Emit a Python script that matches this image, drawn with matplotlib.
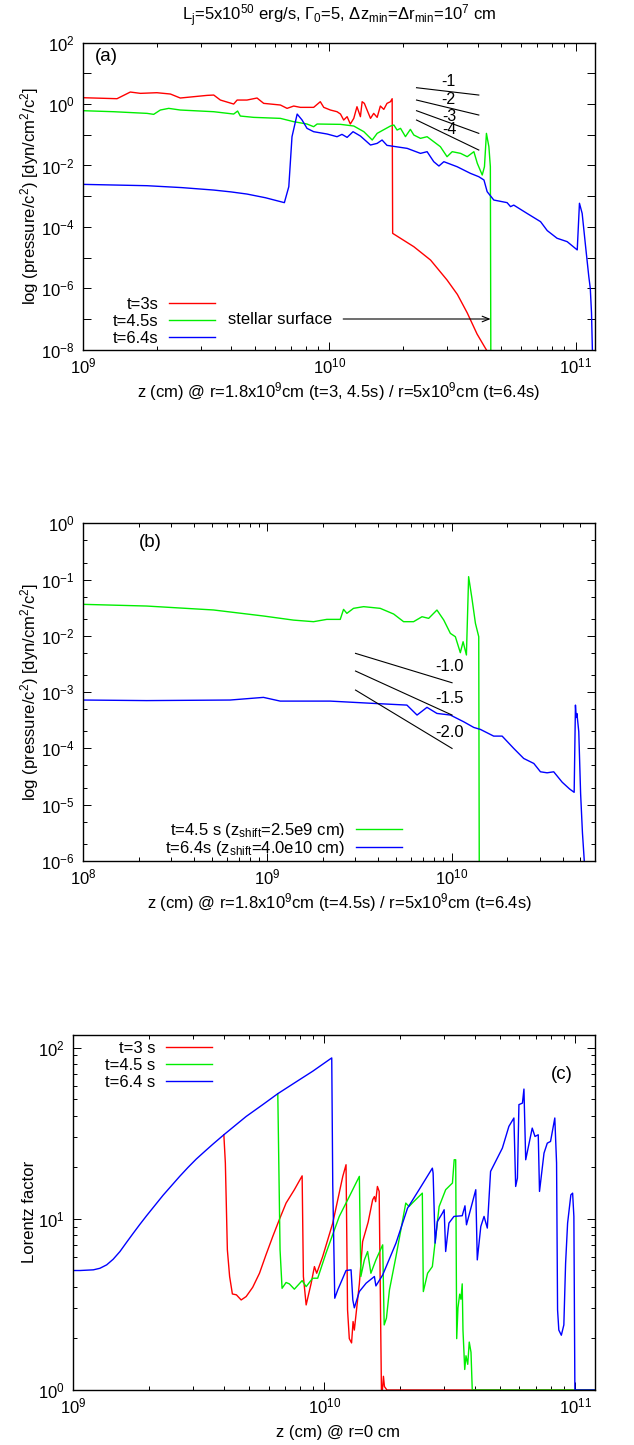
import numpy as np
import matplotlib
matplotlib.use('Agg')
import matplotlib.pyplot as plt
from matplotlib.ticker import FixedLocator, FuncFormatter, NullFormatter

plt.rcParams['font.family'] = ['Liberation Sans', 'DejaVu Sans']
plt.rcParams['mathtext.fontset'] = 'custom'
plt.rcParams['mathtext.rm'] = 'Liberation Sans'
plt.rcParams['mathtext.it'] = 'Liberation Sans:italic'
plt.rcParams['mathtext.bf'] = 'Liberation Sans:bold'
FS = 12

# ---------------- data (log10 values) ----------------
# Panel (a): (log10 z [cm], log10 pressure/c^2)
a_t3 = [(9.000, 0.208), (9.137, 0.176), (9.191, 0.393), (9.232, 0.350), (9.299, 0.371),
        (9.354, 0.328), (9.394, 0.198), (9.503, 0.284), (9.530, 0.295), (9.557, 0.132),
        (9.611, 0.002), (9.625, 0.132), (9.665, 0.132), (9.706, 0.198), (9.733, 0.024),
        (9.801, -0.030), (9.828, -0.139), (9.855, -0.063), (9.882, -0.106), (9.936, -0.106),
        (9.963, 0.078), (9.977, -0.106), (10.004, -0.193), (10.031, -0.248), (10.045, -0.324),
        (10.058, -0.519), (10.072, -0.410), (10.085, -0.649), (10.099, -0.465), (10.112, -0.085),
        (10.126, -0.410), (10.133, 0.078), (10.142, 0.024), (10.153, -0.193), (10.167, -0.465),
        (10.180, -0.302), (10.194, -0.432), (10.207, -0.063), (10.221, -0.172), (10.234, 0.024),
        (10.248, 0.078), (10.255, 0.176), (10.257, -4.210), (10.343, -4.645), (10.411, -5.080),
        (10.478, -5.730), (10.520, -6.200), (10.560, -6.800), (10.600, -7.490), (10.630, -7.900),
        (10.645, -8.100)]
a_t45 = [(9.000, -0.215), (9.123, -0.248), (9.259, -0.302), (9.286, -0.334), (9.313, -0.193),
         (9.347, -0.139), (9.394, -0.193), (9.530, -0.248), (9.611, -0.324), (9.627, -0.226),
         (9.638, -0.389), (9.665, -0.410), (9.692, -0.432), (9.801, -0.465), (9.855, -0.573),
         (9.909, -0.649), (9.936, -0.736), (9.950, -0.649), (10.045, -0.660), (10.099, -0.714),
         (10.140, -0.899), (10.174, -1.170), (10.194, -0.953), (10.248, -0.714), (10.262, -0.682),
         (10.275, -0.845), (10.289, -0.790), (10.309, -1.060), (10.329, -0.823), (10.343, -1.007),
         (10.370, -1.116), (10.397, -1.062), (10.424, -1.225), (10.451, -1.388), (10.478, -1.713),
         (10.499, -1.550), (10.533, -1.605), (10.560, -1.713), (10.587, -1.550), (10.601, -1.930),
         (10.621, -2.310), (10.630, -2.040), (10.638, -0.953), (10.648, -1.388), (10.654, -2.040),
         (10.656, -8.500)]
a_t64 = [(9.000, -2.615), (9.259, -2.658), (9.400, -2.720), (9.530, -2.800), (9.600, -2.860),
         (9.665, -2.930), (9.740, -3.050), (9.817, -3.210),
         (9.835, -2.690), (9.848, -1.062), (9.869, -0.324), (9.889, -0.519), (9.909, -0.790),
         (9.936, -0.899), (9.991, -0.975), (10.031, -1.062), (10.051, -0.986), (10.072, -1.084),
         (10.096, -0.899), (10.126, -1.040), (10.167, -1.333), (10.194, -1.279), (10.214, -1.170),
         (10.234, -1.344), (10.316, -1.442), (10.370, -1.605), (10.397, -1.550), (10.424, -1.876),
         (10.445, -2.017), (10.465, -1.876), (10.519, -2.040), (10.573, -2.256), (10.607, -2.365),
         (10.628, -2.473), (10.641, -2.853), (10.668, -3.125), (10.722, -3.210), (10.736, -3.340),
         (10.749, -3.290), (10.803, -3.560), (10.858, -3.830), (10.885, -4.120), (10.925, -4.370),
         (10.966, -4.480), (11.007, -4.750), (11.016, -3.230), (11.027, -3.560), (11.041, -4.640),
         (11.054, -5.620), (11.060, -6.000), (11.065, -6.800), (11.070, -8.500)]
a_labels = ['t=3s', 't=4.5s', 't=6.4s']
# slope guides (a): log z ends, log p ends for each slope
a_guide_logz = [10.354, 10.607]
a_guide_logp = [(0.534, 0.295), (0.132, -0.356), (-0.215, -0.953), (-0.519, -1.496)]
a_guide_text = ['-1', '-2', '-3', '-4']
a_guide_text_pos = [(10.485, 0.751), (10.485, 0.165), (10.489, -0.410), (10.489, -0.823)]
surface_logz = 10.655
surface_logp = -7.0

# Panel (b)
b_t45 = [(8.000, -1.440), (8.344, -1.470), (8.707, -1.540), (8.978, -1.647), (9.141, -1.720),
         (9.250, -1.748), (9.322, -1.707), (9.395, -1.707), (9.413, -1.529), (9.431, -1.600),
         (9.467, -1.511), (9.522, -1.481), (9.612, -1.511), (9.685, -1.612), (9.739, -1.748),
         (9.793, -1.748), (9.839, -1.660), (9.875, -1.689), (9.920, -1.541), (9.957, -1.719),
         (9.993, -1.956), (10.020, -2.015), (10.047, -2.299), (10.062, -2.104), (10.080, -2.340),
         (10.092, -0.948), (10.110, -1.333), (10.129, -1.778), (10.147, -2.015), (10.150, -6.500)]
b_t64 = [(8.000, -3.140), (8.344, -3.150), (8.797, -3.140), (8.978, -3.093), (9.069, -3.159),
         (9.340, -3.159), (9.576, -3.200), (9.757, -3.230), (9.812, -3.407), (9.866, -3.270),
         (9.920, -3.378), (9.993, -3.407), (10.065, -3.526), (10.120, -3.627), (10.156, -3.662),
         (10.228, -3.781), (10.274, -3.781), (10.337, -4.000), (10.391, -4.178), (10.446, -4.267),
         (10.482, -4.415), (10.518, -4.433), (10.554, -4.415), (10.600, -4.600), (10.640, -4.720),
         (10.665, -4.780), (10.672, -3.230), (10.676, -3.450), (10.680, -3.380), (10.690, -3.700),
         (10.700, -4.800), (10.710, -5.500), (10.730, -6.500)]
b_labels = [r't=4.5 s (z$_\mathrm{shift}$=2.5e9 cm)', r't=6.4s (z$_\mathrm{shift}$=4.0e10 cm)']
b_guide_logz = [9.478, 10.002]
b_guide_logp = [(-2.311, -2.833), (-2.625, -3.407), (-2.963, -4.000)]
b_guide_text = ['-1.0', '-1.5', '-2.0']
b_guide_text_pos = [(9.986, -2.536), (9.986, -3.111), (9.986, -3.720)]

# Panel (c): (log10 z, log10 Lorentz factor)
c_t3 = [(9.600, 1.491), (9.606, 1.326), (9.614, 0.819), (9.623, 0.663), (9.634, 0.561),
        (9.650, 0.556), (9.669, 0.526), (9.689, 0.546), (9.715, 0.600), (9.742, 0.682),
        (9.768, 0.790), (9.795, 0.897), (9.821, 0.995),
        (9.848, 1.092), (9.881, 1.170), (9.912, 1.251), (9.917, 0.663), (9.928, 0.497), (9.948, 0.624),
        (9.961, 0.721), (9.970, 0.682), (9.994, 0.780), (10.034, 0.975), (10.074, 1.248),
        (10.087, 1.316), (10.093, 0.468), (10.100, 0.300), (10.109, 0.275), (10.115, 0.400),
        (10.120, 0.350), (10.140, 0.620), (10.153, 0.867), (10.175, 0.980), (10.193, 1.111),
        (10.200, 1.130), (10.205, 1.100), (10.212, 1.189), (10.219, 1.160), (10.228, 0.000),
        (10.232, 0.000), (10.236, 0.080), (10.240, 0.020), (10.250, 0.000), (11.080, 0.000)]
c_t45 = [(9.815, 1.731), (9.819, 1.326), (9.824, 0.819), (9.832, 0.594), (9.848, 0.628),
         (9.861, 0.620), (9.881, 0.589), (9.912, 0.639), (9.928, 0.604), (9.954, 0.653),
         (9.974, 0.653), (10.007, 0.799), (10.060, 1.014), (10.100, 1.130), (10.140, 1.248),
         (10.146, 0.663),
         (10.160, 0.760), (10.173, 0.809), (10.186, 0.682), (10.206, 0.760), (10.233, 0.848),
         (10.239, 0.380), (10.248, 0.420), (10.260, 0.585), (10.286, 0.780), (10.325, 1.092),
         (10.338, 1.072), (10.351, 1.092), (10.391, 1.150), (10.395, 0.575), (10.412, 0.682),
         (10.431, 0.721), (10.458, 1.072), (10.484, 1.170), (10.504, 1.199), (10.511, 1.209),
         (10.518, 1.345), (10.524, 1.345), (10.528, 0.300), (10.533, 0.480), (10.540, 0.560),
         (10.545, 0.530), (10.550, 0.620), (10.553, 0.350), (10.560, 0.120), (10.565, 0.200),
         (10.572, 0.150), (10.578, 0.280), (10.585, 0.220), (10.590, 0.000), (11.080, 0.000)]
c_t64 = [(9.000, 0.698), (9.027, 0.698), (9.080, 0.702), (9.106, 0.711), (9.133, 0.731),
         (9.159, 0.764), (9.186, 0.809), (9.212, 0.862), (9.239, 0.916), (9.265, 0.967),
         (9.292, 1.018), (9.325, 1.078), (9.358, 1.138), (9.391, 1.193), (9.424, 1.248),
         (9.457, 1.300), (9.490, 1.349), (9.524, 1.394), (9.557, 1.437), (9.600, 1.491),
         (9.649, 1.550), (9.689, 1.598), (9.755, 1.667), (9.815, 1.731), (9.888, 1.800),
         (9.954, 1.862), (10.030, 1.940),
         (10.034, 1.200), (10.040, 0.700), (10.042, 0.536), (10.054, 0.585), (10.087, 0.698),
         (10.107, 0.702), (10.114, 0.526), (10.120, 0.480), (10.140, 0.575), (10.167, 0.624),
         (10.200, 0.663), (10.206, 0.608), (10.233, 0.672), (10.286, 0.858), (10.332, 1.062),
         (10.378, 1.170), (10.431, 1.296), (10.434, 1.267), (10.442, 0.858), (10.451, 0.984),
         (10.471, 1.033), (10.478, 1.053), (10.484, 0.809), (10.497, 0.975), (10.517, 1.014),
         (10.550, 1.018), (10.561, 1.076), (10.567, 0.965), (10.604, 1.170), (10.610, 0.760),
         (10.624, 0.955), (10.637, 1.014), (10.650, 0.946), (10.663, 1.277), (10.710, 1.413),
         (10.736, 1.540), (10.756, 1.589), (10.763, 1.189), (10.770, 1.238), (10.776, 1.667),
         (10.790, 1.676), (10.796, 1.758), (10.803, 1.345), (10.829, 1.530), (10.840, 1.481),
         (10.853, 1.491), (10.858, 1.160), (10.876, 1.384), (10.889, 1.442), (10.902, 1.452),
         (10.919, 1.589), (10.926, 1.326), (10.930, 0.468), (10.935, 0.350), (10.945, 0.320),
         (10.955, 0.380), (10.962, 0.740), (10.970, 0.975), (10.983, 1.140), (10.990, 1.150),
         (10.995, 1.014), (10.999, 0.000), (11.080, 0.000)]
c_labels = ['t=3 s', 't=4.5 s', 't=6.4 s']

COLORS = ['#ff0000', '#00ee00', '#0000ff']
LW = 1.0

W, H = 634, 1445
fig = plt.figure(figsize=(W / 100, H / 100), dpi=100)


def ax_px(left, top, right, bottom):
    return fig.add_axes([left / W, 1 - bottom / H, (right - left) / W, (bottom - top) / H])


def pw(pairs):
    arr = np.array(pairs)
    return 10 ** arr[:, 0], 10 ** arr[:, 1]


def sci(v, pos):
    return r'10$^{%d}$' % int(round(np.log10(v)))


def style(ax):
    ax.tick_params(which='both', direction='in', top=True, right=True, labelsize=FS, width=0.7)
    ax.tick_params(which='major', length=6)
    ax.tick_params(which='minor', length=3)
    ax.tick_params(axis='y', which='both', pad=6.5)
    ax.tick_params(axis='x', which='both', pad=5)
    for s in ax.spines.values():
        s.set_linewidth(1.0)


def fx(px):
    return px / W


def fy(py):
    return 1 - py / H


LEG = dict(bbox_transform=fig.transFigure, markerfirst=False, frameon=False,
           handlelength=2.75, handletextpad=0.65, borderpad=0,
           borderaxespad=0, fontsize=FS, loc='upper right')

# ---------------- panel (a) ----------------
axa = ax_px(83.3, 42.7, 595, 349.7)
axa.set_xscale('log'); axa.set_yscale('log')
lines_a = []
for d, c, lab in zip([a_t3, a_t45, a_t64], COLORS, a_labels):
    x, y = pw(d)
    ln, = axa.plot(x, y, color=c, lw=LW, label=lab)
    lines_a.append(ln)
axa.set_xlim(1e9, 1.2e11)
axa.set_ylim(1e-8, 1e2)
for (p0, p1) in a_guide_logp:
    axa.plot(10 ** np.array(a_guide_logz), 10 ** np.array([p0, p1]), color='black', lw=0.8)
for t, (lx, ly) in zip(a_guide_text, a_guide_text_pos):
    axa.text(10 ** lx, 10 ** ly, t, ha='center', va='center', fontsize=FS - 0.5)
axa.text(10 ** 9.588, 10 ** surface_logp, 'stellar surface', ha='left', va='center', fontsize=FS)
axa.annotate('', xy=(10 ** surface_logz, 10 ** surface_logp), xytext=(10 ** 10.056, 10 ** surface_logp),
             arrowprops=dict(arrowstyle='->,head_length=0.5,head_width=0.2', color='black', lw=0.8,
                             shrinkA=0, shrinkB=0))
axa.text(0.045, 0.955, '(a)', transform=axa.transAxes, ha='center', va='center', fontsize=FS + 1.5)
axa.xaxis.set_major_locator(FixedLocator([1e9, 1e10, 1e11]))
axa.xaxis.set_minor_locator(FixedLocator([m * 10 ** e for e in (9, 10) for m in range(2, 10)]))
axa.xaxis.set_major_formatter(FuncFormatter(sci))
axa.xaxis.set_minor_formatter(NullFormatter())
axa.yaxis.set_major_locator(FixedLocator([10.0 ** e for e in range(-8, 3, 2)]))
axa.yaxis.set_minor_locator(FixedLocator([10.0 ** e for e in range(-7, 2, 2)]))
axa.yaxis.set_major_formatter(FuncFormatter(sci))
axa.yaxis.set_minor_formatter(NullFormatter())
style(axa)
axa.tick_params(axis='y', which='minor', length=6)
axa.legend(handles=lines_a, bbox_to_anchor=(fx(215), fy(297)), labelspacing=0.12, **LEG)

fig.text(fx(339), fy(21), r'L$_\mathrm{j}$=5x10$^{50}$ erg/s, Γ$_\mathrm{0}$=5, Δz$_\mathrm{min}$=Δr$_\mathrm{min}$=10$^{7}$ cm',
         ha='center', va='baseline', fontsize=FS)
fig.text(fx(339), fy(397), r'z (cm) @ r=1.8x10$^{9}$cm (t=3, 4.5s) / r=5x10$^{9}$cm (t=6.4s)',
         ha='center', va='baseline', fontsize=FS)
fig.text(fx(30), fy(196), r'log (pressure/c$^{2}$) [dyn/cm$^{2}$/c$^{2}$]', rotation=90,
         ha='center', va='center', fontsize=FS)

# ---------------- panel (b) ----------------
axb = ax_px(83.3, 523.3, 595, 861)
axb.set_xscale('log'); axb.set_yscale('log')
lines_b = []
for d, c, lab in zip([b_t45, b_t64], COLORS[1:], b_labels):
    x, y = pw(d)
    ln, = axb.plot(x, y, color=c, lw=LW, label=lab)
    lines_b.append(ln)
axb.set_xlim(1e8, 6e10)
axb.set_ylim(1e-6, 1e0)
for (p0, p1) in b_guide_logp:
    axb.plot(10 ** np.array(b_guide_logz), 10 ** np.array([p0, p1]), color='black', lw=0.8)
for t, (lx, ly) in zip(b_guide_text, b_guide_text_pos):
    axb.text(10 ** lx, 10 ** ly, t, ha='center', va='center', fontsize=FS)
axb.text((150 - 83.3) / 511.7, 0.944, '(b)', transform=axb.transAxes, ha='center', va='center', fontsize=FS + 1.5)
axb.xaxis.set_major_locator(FixedLocator([1e8, 1e9, 1e10]))
axb.xaxis.set_minor_locator(FixedLocator([m * 10 ** e for e in (8, 9, 10) for m in range(2, 10)]))
axb.xaxis.set_major_formatter(FuncFormatter(sci))
axb.xaxis.set_minor_formatter(NullFormatter())
axb.yaxis.set_major_locator(FixedLocator([10.0 ** e for e in range(-6, 1)]))
axb.yaxis.set_minor_locator(FixedLocator([m * 10.0 ** e for e in range(-6, 0) for m in (2, 5)]))
axb.yaxis.set_major_formatter(FuncFormatter(sci))
axb.yaxis.set_minor_formatter(NullFormatter())
style(axb)
axb.legend(handles=lines_b, bbox_to_anchor=(fx(402), fy(821)), labelspacing=-0.05, **LEG)
fig.text(fx(339), fy(908), r'z (cm) @ r=1.8x10$^{9}$cm (t=4.5s) / r=5x10$^{9}$cm (t=6.4s)',
         ha='center', va='baseline', fontsize=FS)
fig.text(fx(30), fy(692), r'log (pressure/c$^{2}$) [dyn/cm$^{2}$/c$^{2}$]', rotation=90,
         ha='center', va='center', fontsize=FS)

# ---------------- panel (c) ----------------
axc = ax_px(73.3, 1034.7, 595, 1390)
axc.set_xscale('log'); axc.set_yscale('log')
lines_c = []
for d, c, lab in zip([c_t3, c_t45, c_t64], COLORS, c_labels):
    x, y = pw(d)
    ln, = axc.plot(x, y, color=c, lw=LW, label=lab)
    lines_c.append(ln)
axc.set_xlim(1e9, 1.2e11)
axc.set_ylim(1, 119)
axc.text((562 - 73.3) / 521.7, 0.888, '(c)', transform=axc.transAxes, ha='center', va='center', fontsize=FS + 1.5)
axc.xaxis.set_major_locator(FixedLocator([1e9, 1e10, 1e11]))
axc.xaxis.set_minor_locator(FixedLocator([m * 10 ** e for e in (9, 10) for m in range(2, 10)]))
axc.xaxis.set_major_formatter(FuncFormatter(sci))
axc.xaxis.set_minor_formatter(NullFormatter())
axc.yaxis.set_major_locator(FixedLocator([1, 10, 100]))
axc.yaxis.set_minor_locator(FixedLocator([m * 10.0 ** e for e in (0, 1) for m in range(2, 10)]))
axc.yaxis.set_major_formatter(FuncFormatter(sci))
axc.yaxis.set_minor_formatter(NullFormatter())
style(axc)
axc.legend(handles=lines_c, bbox_to_anchor=(fx(212), fy(1041)), labelspacing=0.12, **LEG)
fig.text(fx(338), fy(1437), 'z (cm) @ r=0 cm', ha='center', va='baseline', fontsize=FS)
fig.text(fx(30), fy(1212), 'Lorentz factor', rotation=90, ha='center', va='center', fontsize=FS)

fig.savefig('out.png', dpi=100)
